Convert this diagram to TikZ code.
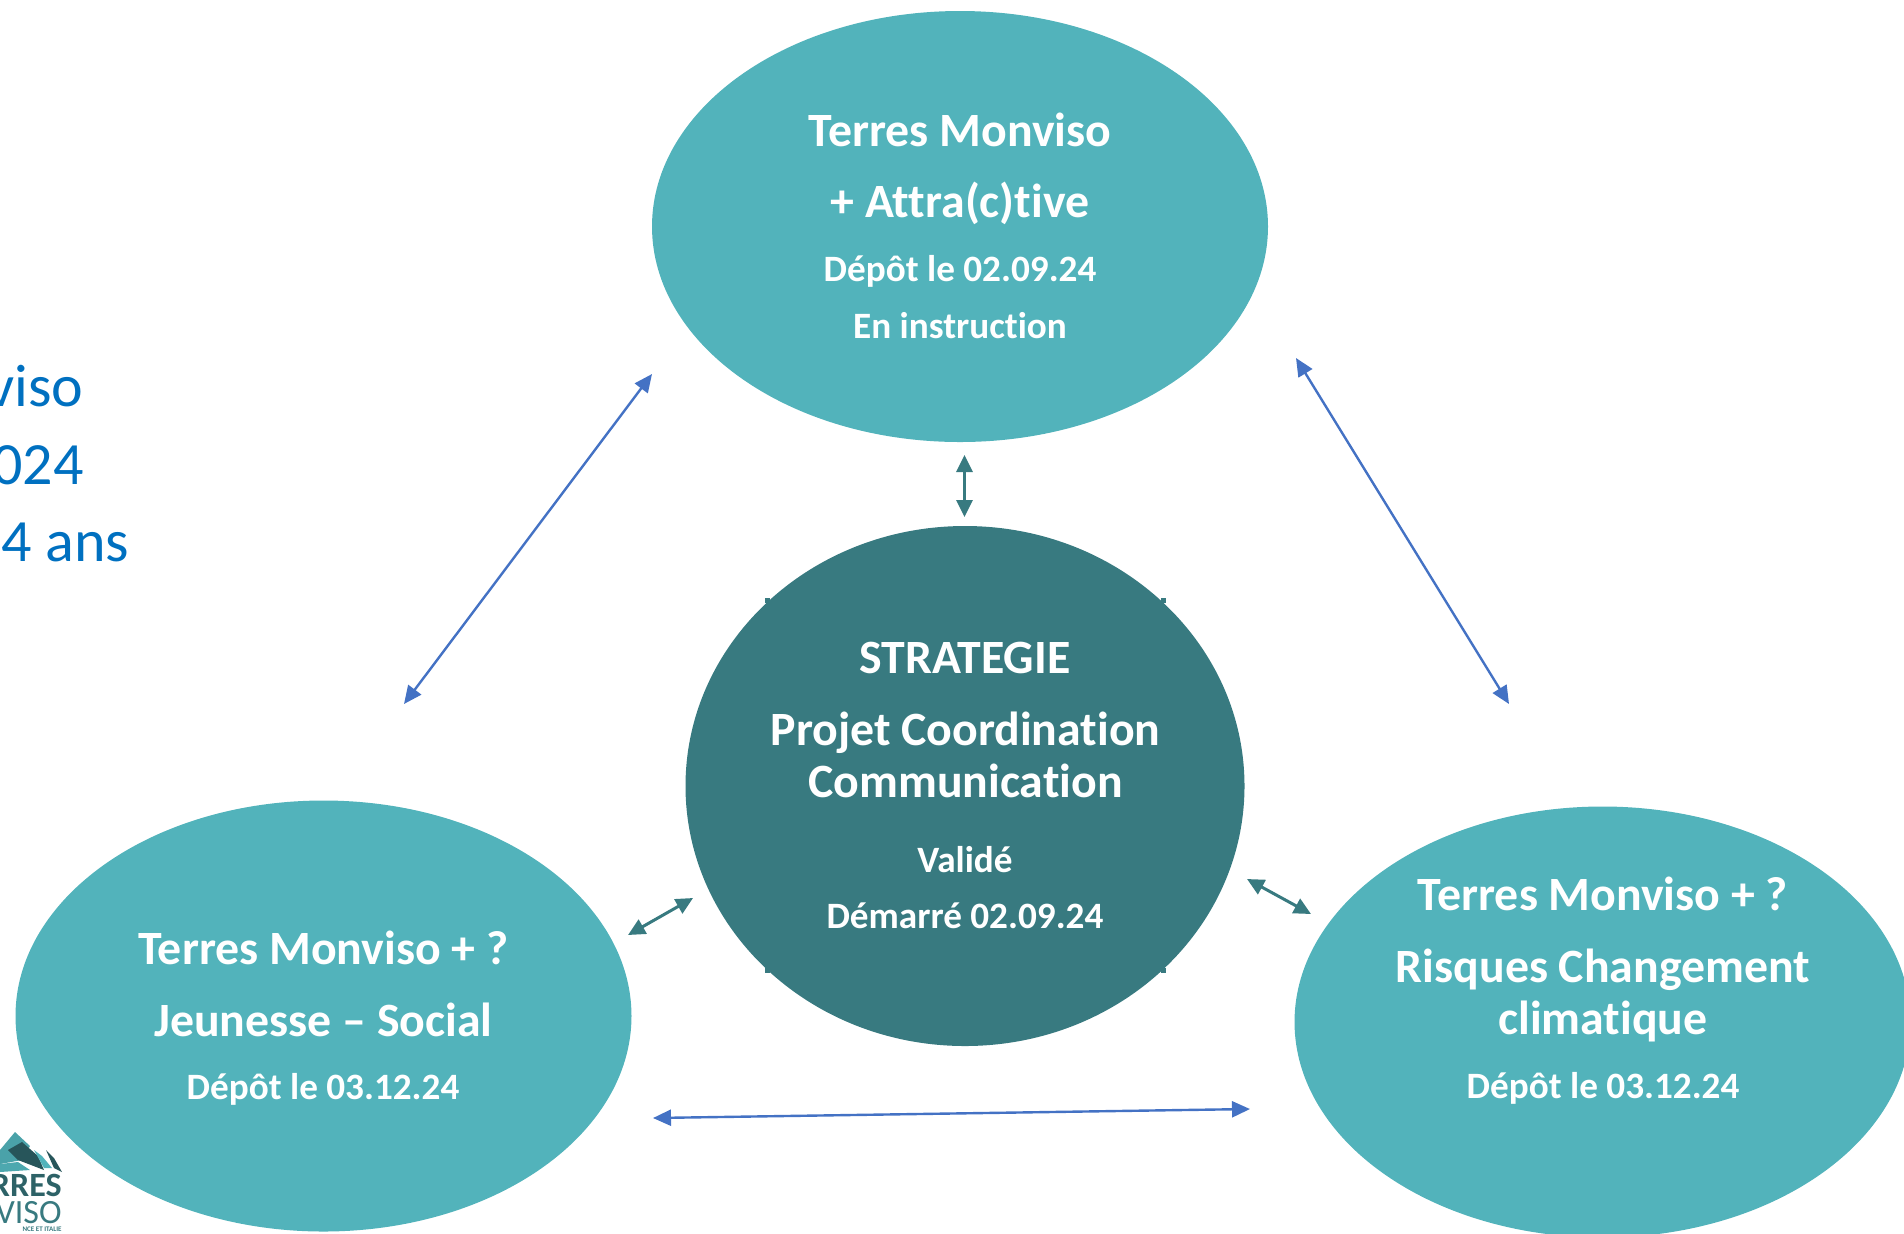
\documentclass[tikz,border=0pt]{standalone}
\usepackage{fontspec}
\setmainfont[Ligatures=NoCommon]{Carlito}
\usetikzlibrary{shapes.geometric,arrows.meta}
\definecolor{lightteal}{HTML}{52B3BB}
\definecolor{darkteal}{HTML}{387A80}
\definecolor{linkblue}{HTML}{4472C4}
\definecolor{noteblue}{HTML}{0070C0}
\tikzset{
  bubble/.style={ellipse,fill=lightteal,inner sep=0pt,outer sep=0pt,minimum width=308pt,minimum height=215.5pt},
  hub/.style={ellipse,fill=darkteal,inner sep=0pt,outer sep=0pt,minimum width=279.5pt,minimum height=260pt},
  bigline/.style={anchor=base,text=white,font=\fontsize{23.9}{25}\selectfont\bfseries,inner sep=0pt},
  smallline/.style={anchor=base,text=white,font=\fontsize{18.6}{20}\selectfont\bfseries,inner sep=0pt},
  noteline/.style={anchor=base east,text=noteblue,font=\fontsize{30}{32}\selectfont,inner sep=0pt},
  bluelink/.style={{Triangle[length=9pt,width=8pt]}-{Triangle[length=9pt,width=8pt]},linkblue,line width=1.2pt},
  teallink/.style={{Triangle[length=8.5pt,width=8pt]}-{Triangle[length=8.5pt,width=8pt]},darkteal,line width=1.5pt},
}
\begin{document}
\begin{tikzpicture}[x=.5pt,y=-.5pt]
\useasboundingbox (0,0) rectangle (1904,1233);
% Texte coupe a gauche
\node[noteline] (note1) at (84,406.5) {viso};
\node[noteline] (note2) at (84,484.5) {024};
\node[noteline] (note3) at (129.5,561.5) {4 ans};
% Ellipses
\node[bubble] (attractive) at (960,226.5) {};
\node[bubble] (jeunesse) at (323.5,1016) {};
\node[bubble] (risques) at (1602.5,1022) {};
\node[hub] (strategie) at (965,786) {};
\foreach \x/\y in {767/600,1163/600,767/970,1163/970}
  \fill[darkteal] (\x-2,\y-2) rectangle (\x+3,\y+3);
% Textes
\node[bigline] (a1) at (960,146) {Terres Monviso};
\node[bigline] (a2) at (960,217.5) {+ Attra(c)tive};
\node[smallline] (a3) at (960,281.5) {Dépôt le 02.09.24};
\node[smallline] (a4) at (960,338) {En instruction};
\node[bigline] (s1) at (965,673.5) {STRATEGIE};
\node[bigline] (s2) at (965.5,745.5) {Projet Coordination};
\node[bigline] (s3) at (965.5,797.5) {Communication};
\node[smallline] (s4) at (965,872) {Validé};
\node[smallline] (s5) at (965,928) {Démarré 02.09.24};
\node[bigline] (j1) at (323.5,964.5) {Terres Monviso + ?};
\node[bigline] (j2) at (323.5,1036.5) {Jeunesse – Social};
\node[smallline] (j3) at (323,1099) {Dépôt le 03.12.24};
\node[bigline] (r1) at (1603,910.5) {Terres Monviso + ?};
\node[bigline] (r2) at (1603,982.5) {Risques Changement};
\node[bigline] (r3) at (1603,1034.5) {climatique};
\node[smallline] (r4) at (1603,1098) {Dépôt le 03.12.24};
% Fleches
\coordinate (la) at (652,374);
\coordinate (lb) at (404,704);
\coordinate (ra) at (1296,358);
\coordinate (rb) at (1509,704);
\coordinate (ba) at (653,1118);
\coordinate (bb) at (1250,1109);
\coordinate (ca) at (964.5,455);
\coordinate (cb) at (964.5,517);
\coordinate (da) at (693,898);
\coordinate (db) at (628,935);
\coordinate (ea) at (1247,879);
\coordinate (eb) at (1311,914);
\draw[bluelink] (la) -- (lb);
\draw[bluelink] (ra) -- (rb);
\draw[bluelink] (ba) -- (bb);
\draw[teallink] (ca) -- (cb);
\draw[teallink] (da) -- (db);
\draw[teallink] (ea) -- (eb);
% Logo
\fill[lightteal!70!darkteal] (0,1150) -- (15,1132) -- (30,1146) -- (22,1160) -- (0,1164) -- cycle;
\fill[darkteal!70!black] (8,1150) -- (22,1142) -- (38,1156) -- (44,1170) -- (18,1160) -- cycle;
\fill[lightteal] (34,1150) -- (42,1156) -- (52,1168) -- (44,1168) -- cycle;
\fill[darkteal!70!black] (46,1150) -- (54,1158) -- (62,1172) -- (54,1168) -- cycle;
\fill[lightteal!80!darkteal] (0,1164) -- (18,1162) -- (30,1170) -- (0,1172) -- cycle;
\node[anchor=base east,inner sep=0pt,text=darkteal!80!black,font=\fontsize{17}{18}\selectfont\bfseries] (logo1) at (62,1196) {RRES};
\node[anchor=base east,inner sep=0pt,text=darkteal,font=\fontsize{17}{18}\selectfont] (logo2) at (62,1223) {NVISO};
\node[anchor=base east,inner sep=0pt,text=darkteal,font=\fontsize{3.5}{4}\selectfont\bfseries] (logo3) at (62,1231) {NCE ET ITALIE};
\end{tikzpicture}
\end{document}
